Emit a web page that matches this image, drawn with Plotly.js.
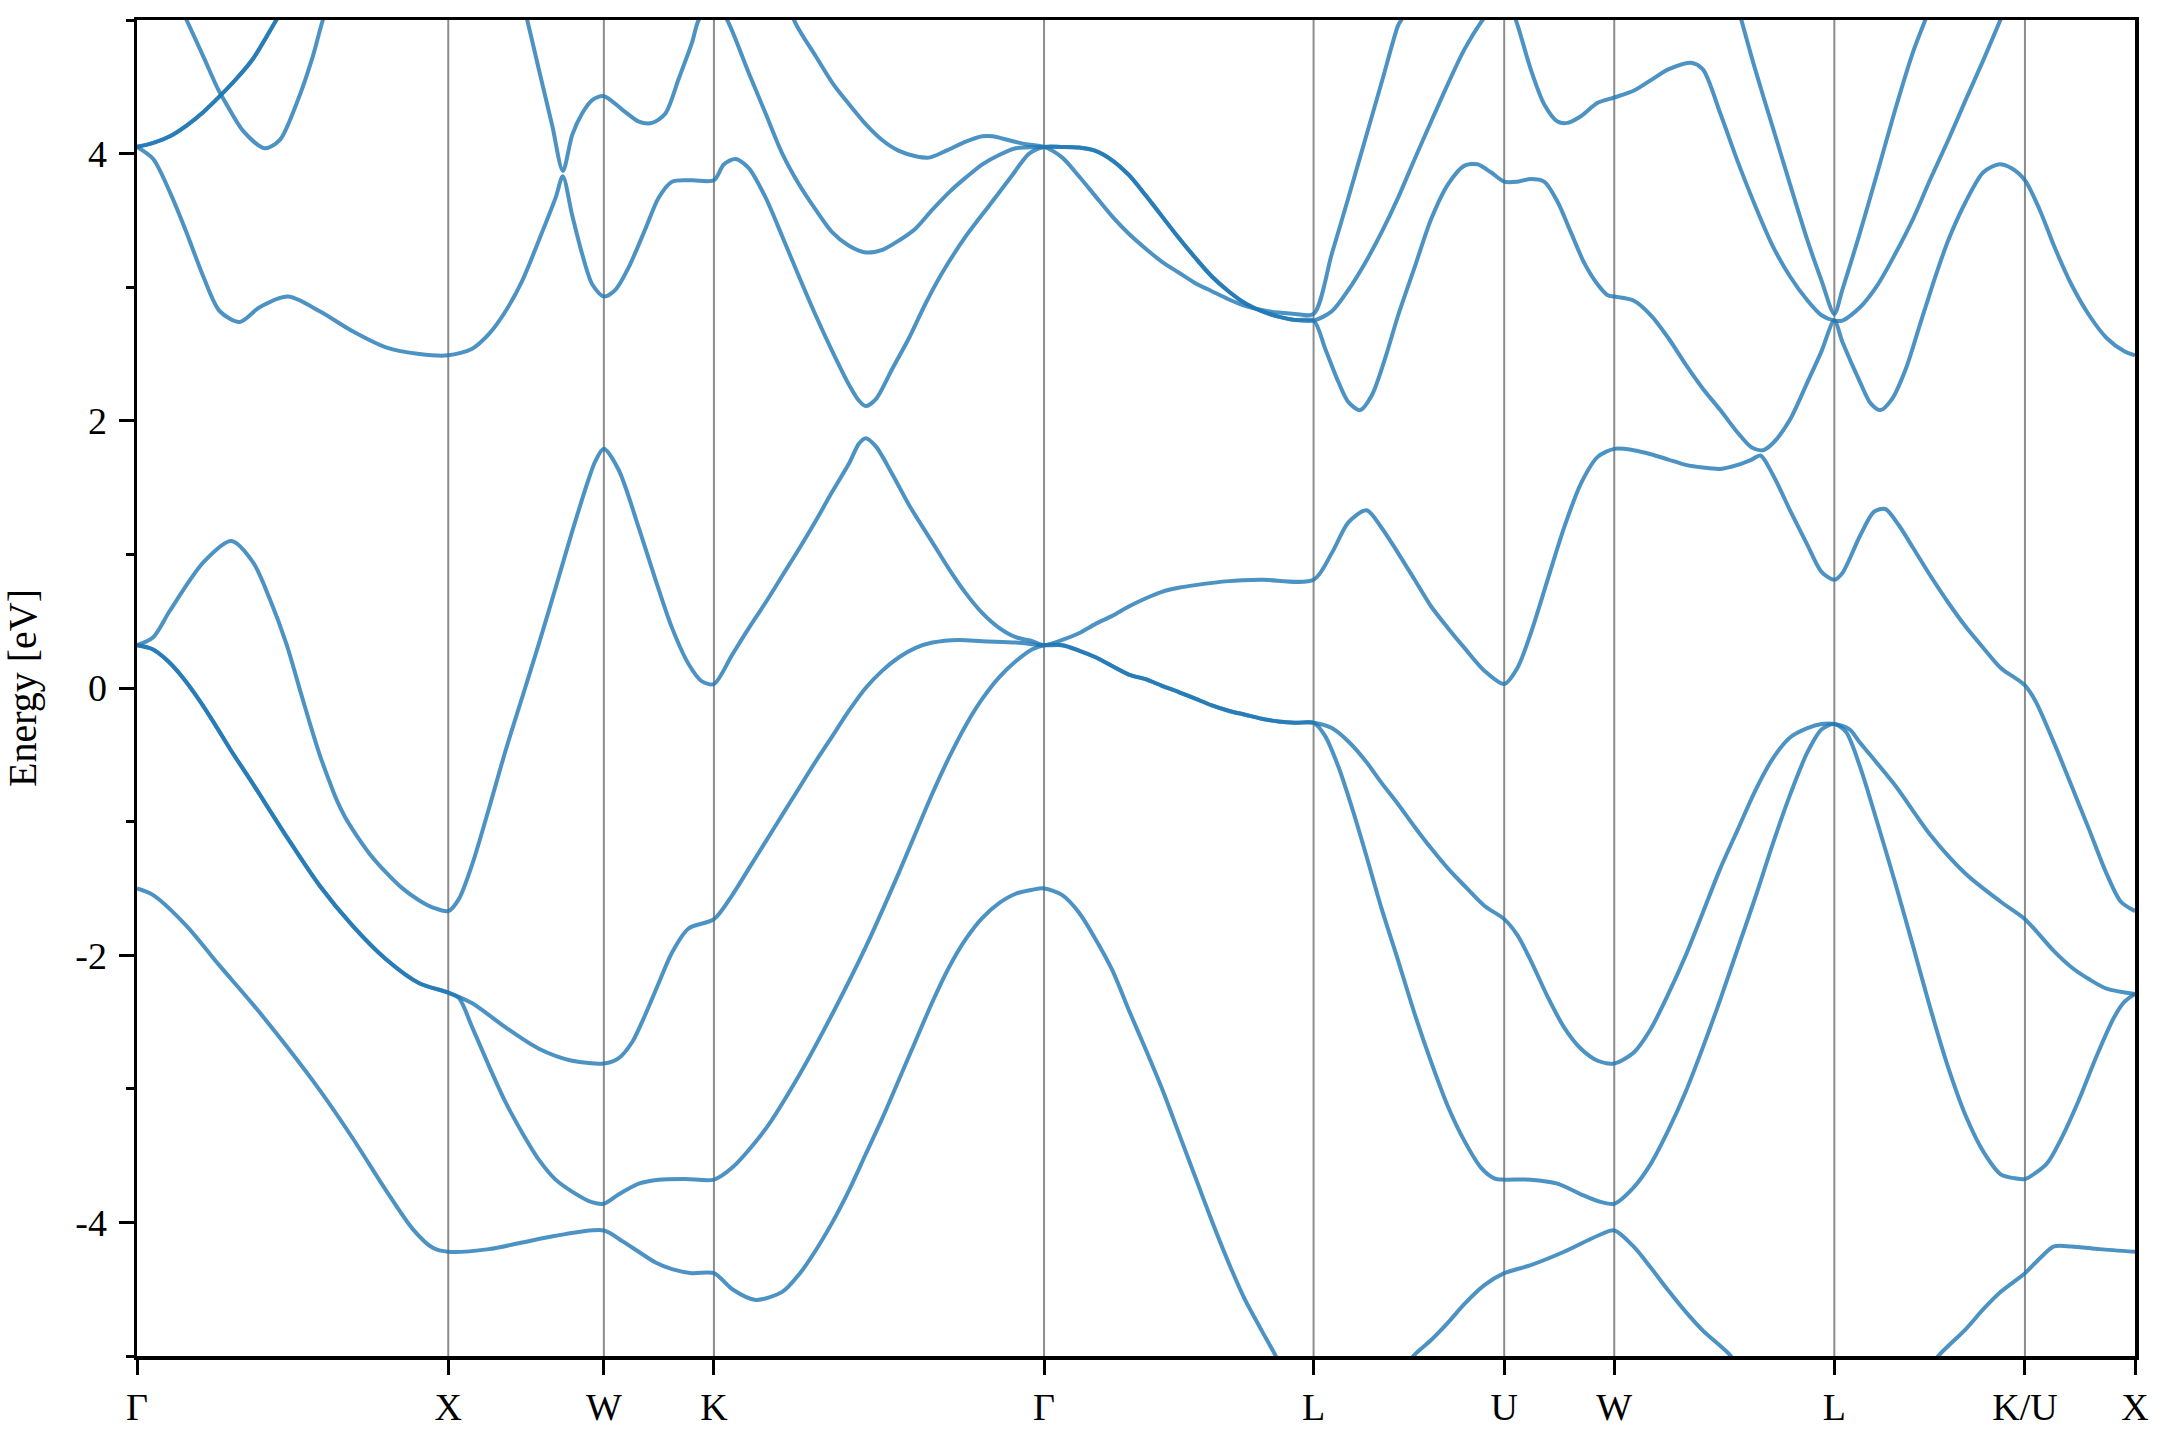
<!DOCTYPE html>
<html>
<head>
<meta charset="utf-8">
<script src="https://cdn.plot.ly/plotly-3.0.1.min.js"></script>
<style>html,body{margin:0;padding:0;background:#fff;}#chart{width:2160px;height:1440px;}</style>
</head>
<body>
<div id="chart"></div>
<script>
// High-symmetry path
const kTicks = [0, 1.0, 1.5, 1.8536, 2.9142, 3.7802, 4.3926, 4.7462, 5.4533, 6.0657, 6.4193];
const kLabels = ['Γ', 'X', 'W', 'K', 'Γ', 'L', 'U', 'W', 'L', 'K/U', 'X'];
const energyTicks = [-4, -2, 0, 2, 4];
const energyLabels = ['-4', '-2', '0', '2', '4'];
const energyMinorTicks = [-5, -3, -1, 1, 3, 5];

// Band 1
const band1K = [0, 0.052, 0.159, 0.266, 0.373, 0.480, 0.587, 0.693, 0.800, 0.886, 0.950, 1.0,
  1.131, 1.238, 1.345, 1.5,
  1.559, 1.612, 1.666, 1.719, 1.783, 1.8536,
  1.9125, 1.9875, 2.0732, 2.1268, 2.1804, 2.234, 2.2875, 2.3411, 2.3947, 2.4483, 2.5018, 2.5554, 2.609, 2.6625, 2.7161, 2.7697, 2.8233, 2.8768, 2.9142,
  2.9729, 3.0263, 3.0797, 3.1331, 3.1865, 3.2399, 3.2933, 3.3467, 3.4001, 3.4534, 3.5068, 3.5602, 3.6136, 3.6563, 3.70,
  null,
  4.052, 4.105, 4.158, 4.212, 4.265, 4.329, 4.3926,
  4.478, 4.585, 4.693, 4.7462,
  4.808, 4.864, 4.920, 4.976, 5.031, 5.121, 5.18,
  null,
  5.72, 5.787, 5.875, 5.932, 5.988, 6.0657,
  6.113, 6.159, 6.215, 6.306, 6.4193];
const band1E = [-1.50, -1.55, -1.78, -2.08, -2.37, -2.68, -3.01, -3.37, -3.76, -4.05, -4.19, -4.22,
  -4.20, -4.15, -4.10, -4.06,
  -4.14, -4.22, -4.30, -4.35, -4.38, -4.38,
  -4.50, -4.58, -4.52, -4.39, -4.21, -4.00, -3.76, -3.49, -3.22, -2.93, -2.64, -2.35, -2.09, -1.88, -1.72, -1.61, -1.54, -1.51, -1.50,
  -1.55, -1.68, -1.88, -2.11, -2.41, -2.70, -3.00, -3.33, -3.66, -3.99, -4.30, -4.58, -4.81, -4.99, -5.2,
  null,
  -5.15, -4.99, -4.88, -4.75, -4.61, -4.47, -4.38,
  -4.32, -4.22, -4.10, -4.06,
  -4.18, -4.34, -4.51, -4.67, -4.81, -5.0, -5.2,
  null,
  -5.2, -5.0, -4.80, -4.65, -4.52, -4.38,
  -4.27, -4.18, -4.18, -4.20, -4.22];

// Band 2
const band2K = [0, 0.05, 0.10, 0.15, 0.20, 0.25, 0.30, 0.373, 0.480, 0.587, 0.693, 0.800, 0.907, 1.0,
  1.034, 1.077, 1.131, 1.184, 1.238, 1.291, 1.345, 1.398, 1.452, 1.5,
  1.548, 1.612, 1.676, 1.762, 1.8536,
  1.9125, 2.0197, 2.1268, 2.234, 2.3411, 2.4483, 2.5554, 2.609, 2.6625, 2.7161, 2.7697, 2.8233, 2.8768, 2.9142,
  2.9729, 3.0263, 3.0797, 3.1865, 3.2399, 3.2933, 3.3467, 3.4001, 3.4534, 3.5068, 3.5602, 3.6136, 3.667, 3.7204, 3.7802,
  3.8175, 3.860, 3.9027, 3.9453, 3.9985, 4.0518, 4.105, 4.158, 4.2115, 4.2648, 4.318, 4.3606, 4.3926,
  4.478, 4.564, 4.639, 4.693, 4.7462,
  4.808, 4.864, 4.920, 4.976, 5.031, 5.087, 5.143, 5.199, 5.255, 5.311, 5.367, 5.412, 5.4533,
  5.491, 5.536, 5.593, 5.649, 5.706, 5.762, 5.819, 5.875, 5.932, 5.988, 6.034, 6.0657,
  6.136, 6.181, 6.238, 6.295, 6.351, 6.385, 6.4193];
const band2E = [0.32, 0.29, 0.20, 0.07, -0.09, -0.27, -0.46, -0.72, -1.11, -1.48, -1.78, -2.03, -2.21, -2.28,
  -2.32, -2.54, -2.83, -3.10, -3.33, -3.53, -3.68, -3.77, -3.84, -3.86,
  -3.79, -3.71, -3.68, -3.675, -3.68,
  -3.59, -3.30, -2.90, -2.44, -1.94, -1.38, -0.79, -0.52, -0.28, -0.08, 0.08, 0.20, 0.29, 0.32,
  0.32, 0.28, 0.23, 0.10, 0.066, 0.016, -0.03, -0.08, -0.13, -0.17, -0.20, -0.23, -0.25, -0.26, -0.26,
  -0.36, -0.59, -0.89, -1.22, -1.65, -2.04, -2.44, -2.80, -3.13, -3.39, -3.59, -3.67, -3.68,
  -3.68, -3.71, -3.79, -3.84, -3.86,
  -3.74, -3.56, -3.31, -3.02, -2.69, -2.33, -1.95, -1.57, -1.17, -0.80, -0.48, -0.31, -0.27,
  -0.33, -0.59, -1.02, -1.46, -1.93, -2.40, -2.84, -3.20, -3.47, -3.64, -3.67, -3.675,
  -3.56, -3.38, -3.09, -2.76, -2.47, -2.35, -2.29];

// Band 3
const band3K = [0, 0.05, 0.10, 0.15, 0.20, 0.25, 0.30, 0.373, 0.480, 0.587, 0.693, 0.800, 0.907, 1.0,
  1.077, 1.184, 1.291, 1.398, 1.5,
  1.548, 1.591, 1.634, 1.676, 1.719, 1.772, 1.8536,
  1.9125, 1.9661, 2.0197, 2.0732, 2.1268, 2.1804, 2.234, 2.2875, 2.3411, 2.3947, 2.4483, 2.5018, 2.5554, 2.6411, 2.7161, 2.8233, 2.9142,
  2.9729, 3.0263, 3.0797, 3.1865, 3.2399, 3.2933, 3.3467, 3.4001, 3.4534, 3.5068, 3.5602, 3.6136, 3.667, 3.7204, 3.7802,
  3.8388, 3.892, 3.9453, 3.9985, 4.0518, 4.105, 4.158, 4.2115, 4.2648, 4.3287, 4.3926,
  4.435, 4.478, 4.532, 4.585, 4.639, 4.693, 4.7462,
  4.808, 4.864, 4.920, 4.976, 5.031, 5.087, 5.143, 5.199, 5.255, 5.311, 5.367, 5.412, 5.4533,
  5.502, 5.536, 5.649, 5.762, 5.875, 5.988, 6.0657,
  6.102, 6.159, 6.215, 6.272, 6.328, 6.4193];
const band3E = [0.32, 0.29, 0.20, 0.07, -0.09, -0.27, -0.46, -0.72, -1.11, -1.48, -1.78, -2.03, -2.21, -2.28,
  -2.36, -2.54, -2.70, -2.79, -2.81,
  -2.77, -2.65, -2.44, -2.21, -1.98, -1.80, -1.73,
  -1.55, -1.35, -1.15, -0.95, -0.75, -0.55, -0.36, -0.17, 0.00, 0.13, 0.23, 0.30, 0.34, 0.36, 0.35, 0.34, 0.32,
  0.32, 0.28, 0.23, 0.10, 0.066, 0.016, -0.03, -0.08, -0.13, -0.17, -0.20, -0.23, -0.25, -0.26, -0.26,
  -0.30, -0.40, -0.54, -0.71, -0.87, -1.04, -1.20, -1.35, -1.48, -1.63, -1.73,
  -1.85, -2.04, -2.31, -2.54, -2.70, -2.79, -2.81,
  -2.73, -2.55, -2.29, -2.00, -1.68, -1.35, -1.06, -0.77, -0.53, -0.37, -0.30, -0.27, -0.27,
  -0.31, -0.41, -0.73, -1.10, -1.39, -1.60, -1.73,
  -1.82, -1.97, -2.09, -2.18, -2.25, -2.29];

// Band 4
const band4K = [0, 0.052, 0.106, 0.213, 0.303, 0.373, 0.426, 0.480, 0.528, 0.560, 0.587, 0.615, 0.640, 0.667, 0.693, 0.747, 0.800, 0.853, 0.907, 0.953, 1.0,
  1.034, 1.077, 1.131, 1.184, 1.243, 1.291, 1.345, 1.398, 1.452, 1.473, 1.5,
  1.548, 1.612, 1.666, 1.719, 1.772, 1.815, 1.8536,
  1.9125, 1.9661, 2.0197, 2.0732, 2.1268, 2.1804, 2.234, 2.2875, 2.3197, 2.3411, 2.3733, 2.4268, 2.4804, 2.5554, 2.609, 2.6625, 2.7161, 2.7697, 2.8233, 2.8768, 2.9142,
  2.9729, 3.0263, 3.0797, 3.1331, 3.1865, 3.2399, 3.2933, 3.3467, 3.4001, 3.5068, 3.6136, 3.7802,
  3.8388, 3.892, 3.9506, 3.9985, 4.0518, 4.105, 4.158, 4.2115, 4.2648, 4.3287, 4.3926,
  4.435, 4.478, 4.532, 4.585, 4.639, 4.693, 4.7462,
  4.808, 4.864, 4.920, 4.976, 5.031, 5.087, 5.143, 5.188, 5.216, 5.255, 5.311, 5.367, 5.412, 5.4533,
  5.479, 5.536, 5.581, 5.617, 5.660, 5.706, 5.762, 5.819, 5.875, 5.932, 5.988, 6.0657,
  6.100, 6.159, 6.215, 6.272, 6.328, 6.374, 6.4193];
const band4E = [0.32, 0.38, 0.58, 0.94, 1.10, 0.94, 0.67, 0.33, -0.05, -0.30, -0.50, -0.68, -0.83, -0.96, -1.06, -1.24, -1.38, -1.50, -1.59, -1.645, -1.67,
  -1.58, -1.32, -0.90, -0.47, -0.03, 0.33, 0.75, 1.17, 1.57, 1.70, 1.79,
  1.63, 1.20, 0.81, 0.45, 0.18, 0.05, 0.03,
  0.25, 0.45, 0.64, 0.84, 1.04, 1.25, 1.47, 1.68, 1.83, 1.87, 1.81, 1.60, 1.37, 1.09, 0.89, 0.71, 0.56, 0.45, 0.38, 0.35, 0.32,
  0.36, 0.41, 0.48, 0.54, 0.61, 0.67, 0.72, 0.75, 0.77, 0.80, 0.81, 0.81,
  1.01, 1.24, 1.33, 1.20, 1.01, 0.81, 0.61, 0.45, 0.30, 0.13, 0.03,
  0.15, 0.41, 0.81, 1.20, 1.53, 1.73, 1.79,
  1.78, 1.75, 1.71, 1.67, 1.65, 1.64, 1.67, 1.71, 1.74, 1.60, 1.33, 1.07, 0.87, 0.81,
  0.86, 1.14, 1.32, 1.34, 1.22, 1.05, 0.84, 0.64, 0.46, 0.30, 0.15, 0.02,
  -0.10, -0.41, -0.73, -1.06, -1.39, -1.60, -1.67];

// Band 5
const band5K = [0, 0.052, 0.106, 0.159, 0.213, 0.266, 0.330, 0.394, 0.485, 0.587, 0.693, 0.800, 0.907, 1.0,
  1.077, 1.131, 1.184, 1.238, 1.291, 1.345, 1.368, 1.398, 1.430, 1.463, 1.5,
  1.537, 1.580, 1.634, 1.676, 1.719, 1.783, 1.8536,
  1.8857, 1.9232, 1.9661, 2.0197, 2.0732, 2.1268, 2.1804, 2.234, 2.2875, 2.3197, 2.3411, 2.3733, 2.4268, 2.4804, 2.534, 2.5876, 2.6625, 2.7376, 2.8126, 2.8661, 2.9142,
  2.9729, 3.0263, 3.0797, 3.1331, 3.1865, 3.2399, 3.2933, 3.3467, 3.4001, 3.4534, 3.5068, 3.5602, 3.6136, 3.667, 3.7204, 3.7802,
  3.8175, 3.860, 3.892, 3.929, 3.967, 4.009, 4.052, 4.105, 4.158, 4.212, 4.265, 4.307, 4.350, 4.3926,
  4.435, 4.478, 4.521, 4.564, 4.607, 4.650, 4.693, 4.725, 4.7462,
  4.808, 4.864, 4.920, 4.976, 5.031, 5.087, 5.143, 5.188, 5.224, 5.255, 5.311, 5.367, 5.412, 5.4533,
  5.4793, 5.5359, 5.5699, 5.6016, 5.6378, 5.6831, 5.7284, 5.7737, 5.819, 5.8755, 5.9321, 5.9831, 6.0227, 6.0657,
  6.113, 6.159, 6.215, 6.272, 6.328, 6.385, 6.4193];
const band5E = [4.05, 3.96, 3.71, 3.41, 3.08, 2.82, 2.74, 2.85, 2.93, 2.82, 2.67, 2.55, 2.50, 2.49,
  2.54, 2.65, 2.82, 3.05, 3.35, 3.67, 3.83, 3.54, 3.25, 3.02, 2.93,
  2.98, 3.15, 3.44, 3.67, 3.79, 3.80, 3.80,
  3.92, 3.96, 3.89, 3.67, 3.38, 3.08, 2.79, 2.52, 2.27, 2.15, 2.11, 2.16, 2.39, 2.62, 2.88, 3.11, 3.38, 3.61, 3.84, 4.00, 4.05,
  4.05, 4.045, 4.02, 3.95, 3.84, 3.69, 3.53, 3.37, 3.22, 3.08, 2.97, 2.88, 2.82, 2.78, 2.755, 2.75,
  2.54, 2.29, 2.14, 2.08, 2.19, 2.46, 2.79, 3.15, 3.51, 3.77, 3.91, 3.92, 3.86, 3.79,
  3.79, 3.81, 3.79, 3.64, 3.41, 3.18, 3.02, 2.94, 2.93,
  2.90, 2.79, 2.62, 2.42, 2.24, 2.08, 1.91, 1.80, 1.78, 1.83, 2.01, 2.29, 2.52, 2.75,
  2.59, 2.29, 2.13, 2.08, 2.16, 2.39, 2.72, 3.05, 3.35, 3.64, 3.86, 3.92, 3.89, 3.80,
  3.58, 3.31, 3.02, 2.79, 2.62, 2.52, 2.49];

// Band 6
const band6K = [0, 0.0524, 0.1058, 0.1592, 0.2126, 0.266, 0.3194, 0.3729, 0.4476, 0.50,
  null,
  1.22, 1.2538, 1.2912, 1.334, 1.3683, 1.3983, 1.430, 1.4625, 1.5,
  1.5588, 1.6122, 1.6549, 1.6976, 1.7404, 1.7831, 1.8045, 1.8536,
  1.8964, 1.9661, 2.0197, 2.0732, 2.1268, 2.1804, 2.234, 2.2875, 2.3411, 2.3947, 2.4483, 2.5018, 2.5554, 2.609, 2.6625, 2.7161, 2.7697, 2.8233, 2.9142,
  2.9729, 3.0263, 3.0797, 3.1331, 3.1865, 3.2399, 3.2933, 3.3467, 3.4001, 3.4534, 3.5068, 3.5602, 3.6136, 3.667, 3.7204, 3.7802,
  3.8388, 3.892, 3.9453, 3.9985, 4.0518, 4.105, 4.158, 4.2115, 4.2648, 4.323, 4.3926,
  4.430, 4.478, 4.521, 4.564, 4.596, 4.639, 4.693, 4.7462,
  4.808, 4.864, 4.920, 4.9923, 5.031, 5.087, 5.143, 5.199, 5.255, 5.311, 5.367, 5.412, 5.4533,
  5.479, 5.536, 5.593, 5.649, 5.706, 5.762, 5.819, 5.875, 5.932, 5.9868, 6.04];
const band6E = [4.05, 4.08, 4.13, 4.21, 4.31, 4.43, 4.56, 4.71, 5.0, 5.2,
  null,
  5.33, 5.0, 4.63, 4.21, 3.87, 4.14, 4.30, 4.40, 4.43,
  4.33, 4.24, 4.23, 4.30, 4.56, 4.83, 5.0, 5.15,
  5.0, 4.60, 4.30, 4.00, 3.77, 3.58, 3.41, 3.31, 3.26, 3.28, 3.35, 3.44, 3.58, 3.71, 3.82, 3.92, 3.99, 4.04, 4.05,
  4.05, 4.045, 4.02, 3.95, 3.84, 3.69, 3.53, 3.37, 3.22, 3.08, 2.97, 2.88, 2.82, 2.78, 2.755, 2.75,
  2.82, 2.98, 3.18, 3.41, 3.67, 3.96, 4.24, 4.52, 4.78, 5.0, 5.2,
  5.0, 4.63, 4.37, 4.24, 4.23, 4.28, 4.38, 4.42,
  4.47, 4.55, 4.63, 4.68, 4.63, 4.30, 3.94, 3.61, 3.31, 3.08, 2.90, 2.79, 2.75,
  2.75, 2.85, 3.02, 3.25, 3.51, 3.81, 4.10, 4.40, 4.70, 5.0, 5.3];

// Band 7
const band7K = [0, 0.0524, 0.1058, 0.1592, 0.2126, 0.266, 0.3194, 0.3729, 0.4476, 0.50,
  null,
  2.08, 2.1108, 2.1804, 2.234, 2.2875, 2.3411, 2.3947, 2.4483, 2.5018, 2.5447, 2.5983, 2.6625, 2.7161, 2.7483, 2.8018, 2.8554, 2.9142,
  2.9729, 3.0263, 3.0797, 3.1331, 3.1865, 3.2399, 3.2933, 3.3467, 3.4001, 3.4534, 3.5068, 3.5602, 3.6136, 3.667, 3.7204, 3.7802,
  3.8388, 3.892, 3.9453, 3.9985, 4.0518, 4.062, 4.09,
  null,
  5.12, 5.1546, 5.199, 5.255, 5.311, 5.367, 5.412, 5.4533,
  5.479, 5.536, 5.593, 5.649, 5.706, 5.7454, 5.78];
const band7E = [4.05, 4.08, 4.13, 4.21, 4.31, 4.43, 4.56, 4.71, 5.0, 5.2,
  null,
  5.3, 5.0, 4.73, 4.53, 4.37, 4.22, 4.10, 4.02, 3.98, 3.97, 4.02, 4.09, 4.13, 4.13, 4.10, 4.07, 4.05,
  3.97, 3.83, 3.68, 3.53, 3.40, 3.29, 3.19, 3.11, 3.03, 2.97, 2.91, 2.86, 2.83, 2.81, 2.80, 2.80,
  3.25, 3.67, 4.10, 4.53, 4.96, 5.0, 5.2,
  null,
  5.3, 5.0, 4.63, 4.20, 3.77, 3.35, 3.05, 2.80,
  2.98, 3.41, 3.87, 4.33, 4.76, 5.0, 5.2];

// Band 8
const band8K = [0.12, 0.1592, 0.2126, 0.2607, 0.2874, 0.3408, 0.4103, 0.4583, 0.5118, 0.5652, 0.5972, 0.63];
const band8E = [5.2, 5.0, 4.73, 4.48, 4.37, 4.17, 4.04, 4.10, 4.37, 4.73, 5.0, 5.2];

const bands = [
  [band1K, band1E], [band2K, band2E], [band3K, band3E], [band4K, band4E],
  [band5K, band5E], [band6K, band6E], [band7K, band7E], [band8K, band8E]
];

const traces = bands.map(function (b, i) {
  return {
    type: 'scatter', mode: 'lines', x: b[0], y: b[1],
    name: 'band ' + (i + 1),
    line: {color: 'rgba(31,119,180,0.8)', width: 4, shape: 'spline', smoothing: 0.8},
    connectgaps: false, hoverinfo: 'skip', showlegend: false
  };
});

const serif = 'Liberation Serif, Times New Roman, serif';
const shapes = kTicks.slice(1, kTicks.length - 1).map(function (k) {
  return {type: 'line', xref: 'x', yref: 'paper', x0: k, x1: k, y0: 0, y1: 1,
          line: {color: 'rgba(0,0,0,0.45)', width: 2}, layer: 'below'};
});

const layout = {
  width: 2160, height: 1440,
  margin: {l: 137, r: 25, t: 20, b: 84},
  paper_bgcolor: 'white', plot_bgcolor: 'white',
  showlegend: false,
  font: {family: serif, color: 'black', size: 38},
  xaxis: {
    range: [kTicks[0], kTicks[kTicks.length - 1]],
    tickmode: 'array', tickvals: kTicks, ticktext: kLabels,
    ticks: 'outside', ticklen: 15, tickwidth: 3, tickcolor: 'black',
    showline: true, linecolor: 'black', linewidth: 3.5, mirror: true,
    showgrid: false, zeroline: false,
    tickfont: {family: serif, size: 38, color: 'black'}
  },
  yaxis: {
    range: [-5, 5],
    tickmode: 'array', tickvals: energyTicks, ticktext: energyLabels,
    ticks: 'outside', ticklen: 15, tickwidth: 3, tickcolor: 'black',
    ticklabelstandoff: 4,
    minor: {tickmode: 'array', tickvals: energyMinorTicks, ticks: 'outside', ticklen: 8, tickwidth: 3, tickcolor: 'black', showgrid: false},
    showline: true, linecolor: 'black', linewidth: 3.5, mirror: true,
    showgrid: false, zeroline: false,
    tickfont: {family: serif, size: 38, color: 'black'},
    title: {text: 'Energy [eV]', font: {family: serif, size: 40, color: 'black'}, standoff: 30}
  },
  shapes: shapes
};

Plotly.newPlot('chart', traces, layout, {staticPlot: true, displayModeBar: false});
</script>
</body>
</html>
